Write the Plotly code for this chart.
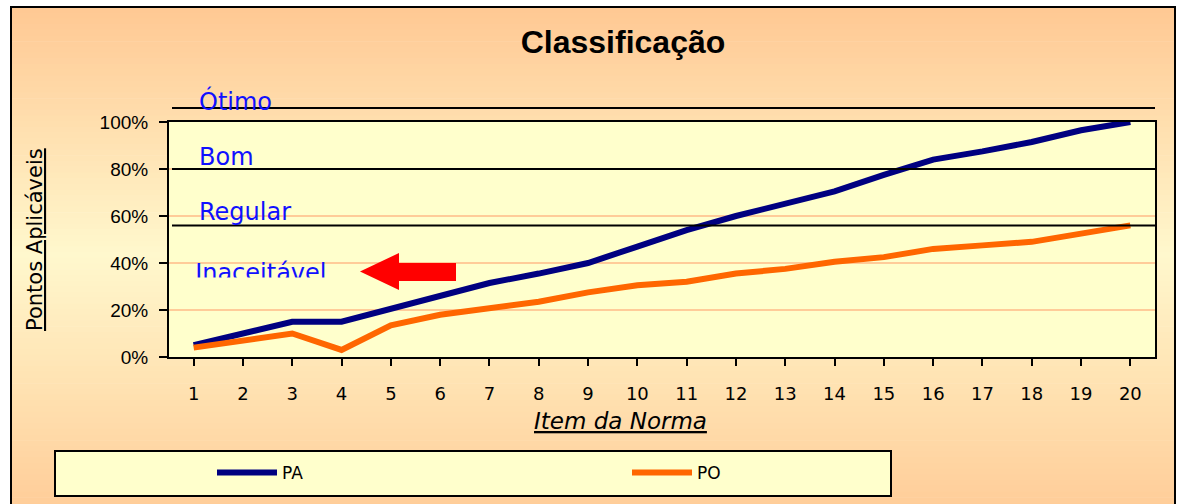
import plotly.graph_objects as go

# ---------------- data ----------------
itens = list(range(1, 21))
pa = [5, 10, 15, 15, 20.5, 26.5, 31.5, 35.5, 40, 47, 54, 60, 65.5, 70.5, 77.5, 84, 87.5, 91.5, 96.5, 100]
po = [4, 7, 10, 3, 13.5, 18, 20.5, 23.5, 27.5, 30.5, 32, 35.5, 37.5, 40.5, 42.5, 46, 47.5, 49, 52.5, 56]
y_ticks = [0, 20, 40, 60, 80, 100]
y_tick_text = ["0%", "20%", "40%", "60%", "80%", "100%"]
classes = ["Ótimo", "Bom", "Regular", "Inaceitável"]
classes_y = [108.9, 85.3, 61.5, 35.1]
limites = [106, 80, 56]

# ---------------- geometry helpers (pixels -> paper) ----------------
W, H = 1177, 504
L, R, T, B = 169, 1155, 122, 357


def px_x(p):
    return (p - L) / (R - L)


def px_y(p):
    return (B - p) / (B - T)


label_font = dict(family="DejaVu Sans", size=24, color="#1010FF")

fig = go.Figure()

fig.add_trace(go.Scatter(x=itens, y=pa, name="PA", mode="lines",
                         line=dict(color="#000080", width=6)))
fig.add_trace(go.Scatter(x=itens, y=po, name="PO", mode="lines",
                         line=dict(color="#FF6600", width=6)))
# lowest class label as a text mark (its box is clipped at the bottom, as in the original)
fig.add_trace(go.Scatter(x=[1.03], y=[classes_y[3]], text=[classes[3]],
                         mode="text", textposition="middle right",
                         textfont=label_font,
                         showlegend=False, hoverinfo="skip", cliponaxis=False))

shapes = []

# background gradient (vertical: orange - pale yellow - orange)
top_c = (255, 200, 147)
mid_c = (255, 248, 205)
bot_c = (255, 203, 150)
y_start, y_mid, y_end = 7, 255, 520
n = 90
for i in range(n):
    p0 = y_start + (y_end - y_start) * i / n
    p1 = y_start + (y_end - y_start) * (i + 1) / n
    pc = (p0 + p1) / 2
    if pc < y_mid:
        t = (pc - y_start) / (y_mid - y_start)
        c = [round(a + (b - a) * t) for a, b in zip(top_c, mid_c)]
    else:
        t = (pc - y_mid) / (y_end - y_mid)
        c = [round(a + (b - a) * t) for a, b in zip(mid_c, bot_c)]
    shapes.append(dict(type="rect", xref="paper", yref="paper", layer="below",
                       x0=px_x(11), x1=px_x(1176), y0=px_y(p1 + 0.6), y1=px_y(p0),
                       fillcolor="rgb(%d,%d,%d)" % tuple(c), line=dict(width=0)))

# outer frame
shapes.append(dict(type="rect", xref="paper", yref="paper", layer="below",
                   x0=px_x(11), x1=px_x(1175), y0=px_y(520), y1=px_y(7),
                   fillcolor="rgba(0,0,0,0)", line=dict(color="black", width=2)))

# plot area background
shapes.append(dict(type="rect", xref="x domain", yref="y domain", layer="below",
                   x0=0, x1=1, y0=0, y1=1, fillcolor="#FFFFCC", line=dict(width=0)))

# legend box
shapes.append(dict(type="rect", xref="paper", yref="paper", layer="below",
                   x0=px_x(55), x1=px_x(891), y0=px_y(496), y1=px_y(451),
                   fillcolor="#FFFFCC", line=dict(color="black", width=2)))

# classification limit lines
for v in limites:
    shapes.append(dict(type="line", xref="paper", yref="paper", layer="above",
                       x0=px_x(172), x1=1.0, y0=v / 100, y1=v / 100,
                       line=dict(color="black", width=2)))

# clip of the "Inaceitável" text box
shapes.append(dict(type="rect", xref="paper", yref="paper", layer="above",
                   x0=px_x(190), x1=px_x(345), y0=px_y(292), y1=px_y(277.5),
                   fillcolor="#FFFFCC", line=dict(width=0)))

# red arrow
ax = [px_x(p) for p in (456, 399, 399, 360, 399, 399, 456)]
ay = [px_y(p) for p in (263, 263, 253, 271.5, 290, 281, 281)]
path = "M " + " L ".join("%.5f,%.5f" % (a, b) for a, b in zip(ax, ay)) + " Z"
shapes.append(dict(type="path", xref="paper", yref="paper", layer="above",
                   path=path, fillcolor="#FF0000", line=dict(width=0)))

annotations = [
    dict(text="Pontos Aplicáveis", xref="paper", yref="paper",
         x=px_x(35), y=px_y(240), textangle=-90, showarrow=False,
         xanchor="center", yanchor="middle",
         font=dict(family="DejaVu Sans", size=21, color="black", lineposition="under")),
    dict(text="<i>Item da Norma</i>", xref="paper", yref="paper",
         x=px_x(620), y=px_y(421), showarrow=False,
         xanchor="center", yanchor="middle",
         font=dict(family="DejaVu Sans", size=23, color="black", lineposition="under")),
]
# upper class labels
for name, yv in zip(classes[:3], classes_y[:3]):
    annotations.append(dict(text=name, xref="x", yref="paper", x=1.03, y=yv / 100,
                            xanchor="left", yanchor="middle", showarrow=False,
                            xshift=2, font=label_font))

fig.update_layout(
    width=W, height=H,
    margin=dict(l=L, r=W - R, t=T, b=H - B, pad=0),
    paper_bgcolor="white",
    plot_bgcolor="#FFFFCC",
    title=dict(text="<b>Classificação</b>", x=px_x(623), xref="paper", xanchor="center",
               y=1 - 42 / H, yref="container", yanchor="middle",
               font=dict(family="Liberation Sans", size=32, color="black")),
    shapes=shapes,
    annotations=annotations,
    showlegend=True,
    legend=dict(orientation="h", x=px_x(212), y=px_y(473), xanchor="left", yanchor="middle",
                xref="paper", yref="paper", bgcolor="rgba(0,0,0,0)", borderwidth=0,
                itemwidth=60, entrywidth=340, entrywidthmode="pixels",
                font=dict(family="DejaVu Sans", size=17, color="black")),
    xaxis=dict(range=[0.5, 20.5], tickmode="array", tickvals=itens,
               ticktext=[str(i) for i in itens], tickson="boundaries",
               ticks="outside", ticklen=7, tickwidth=2, tickcolor="black",
               showline=True, linecolor="black", linewidth=2, mirror=True,
               showgrid=False, zeroline=False, ticklabelstandoff=12,
               tickfont=dict(family="DejaVu Sans", size=18, color="black")),
    yaxis=dict(range=[0, 100], tickmode="array", tickvals=y_ticks, ticktext=y_tick_text,
               ticks="outside", ticklen=8, tickwidth=2, tickcolor="black",
               showline=True, linecolor="black", linewidth=2, mirror=True,
               showgrid=True, gridcolor="#FFCC99", gridwidth=2, zeroline=False,
               ticklabelstandoff=7,
               tickfont=dict(family="Liberation Sans", size=19, color="black")),
)

fig.write_html("out.html", config={"displayModeBar": False},
               post_script="document.body.style.margin='0';document.body.style.overflow='hidden';")
